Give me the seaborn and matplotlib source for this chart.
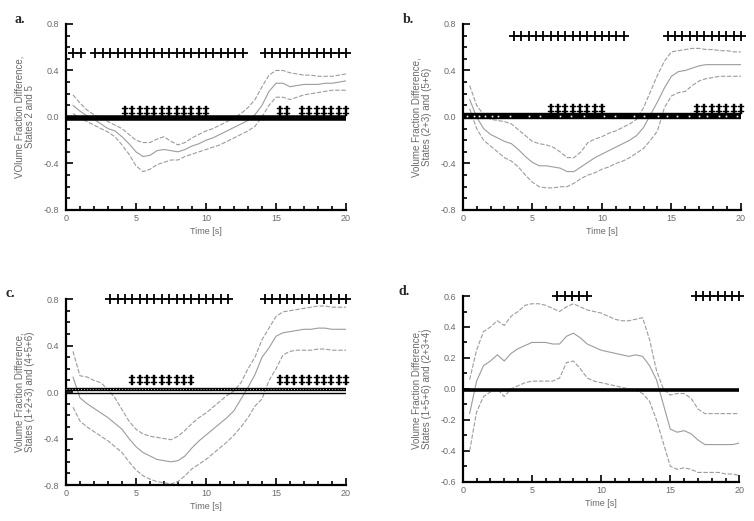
import matplotlib
matplotlib.use("Agg")
import matplotlib.pyplot as plt
import seaborn as sns
from matplotlib.ticker import MultipleLocator, FormatStrFormatter

sns.set_style("ticks")
plt.rcParams['font.family'] = ['Liberation Sans', 'DejaVu Sans']

# time axis of the curves [s]
time_s = [0.5, 1.0, 1.5, 2.0, 2.5, 3.0, 3.5, 4.0, 4.5, 5.0,
          5.5, 6.0, 6.5, 7.0, 7.5, 8.0, 8.5, 9.0, 9.5, 10.0,
          10.5, 11.0, 11.5, 12.0, 12.5, 13.0, 13.5, 14.0, 14.5, 15.0,
          15.5, 16.0, 16.5, 17.0, 17.5, 18.0, 18.5, 19.0, 19.5, 20.0]

## a. states 2 and 5
a_mean = [0.10, 0.05, 0.01, -0.02, -0.06, -0.10, -0.12, -0.17, -0.23, -0.30,
          -0.34, -0.33, -0.29, -0.28, -0.29, -0.30, -0.28, -0.25, -0.23, -0.20,
          -0.18, -0.15, -0.12, -0.09, -0.06, -0.03, 0.02, 0.10, 0.22, 0.29,
          0.29, 0.26, 0.27, 0.28, 0.28, 0.28, 0.29, 0.29, 0.30, 0.31]
a_upper = [0.19, 0.12, 0.06, 0.02, -0.01, -0.04, -0.07, -0.10, -0.15, -0.20,
           -0.22, -0.22, -0.19, -0.17, -0.21, -0.24, -0.22, -0.18, -0.15, -0.12,
           -0.10, -0.07, -0.04, -0.01, 0.03, 0.08, 0.15, 0.26, 0.36, 0.40,
           0.40, 0.38, 0.37, 0.36, 0.36, 0.35, 0.35, 0.35, 0.36, 0.37]
a_lower = [0.03, -0.01, -0.04, -0.07, -0.10, -0.13, -0.17, -0.24, -0.32, -0.42,
           -0.47, -0.45, -0.41, -0.39, -0.37, -0.37, -0.34, -0.32, -0.30, -0.28,
           -0.26, -0.24, -0.21, -0.18, -0.15, -0.12, -0.08, 0.00, 0.10, 0.17,
           0.17, 0.15, 0.17, 0.19, 0.20, 0.21, 0.22, 0.23, 0.23, 0.23]

## b. states (2+3) and (5+6)
b_mean = [0.15, 0.00, -0.10, -0.15, -0.18, -0.21, -0.23, -0.28, -0.34, -0.39,
          -0.42, -0.42, -0.43, -0.44, -0.47, -0.47, -0.43, -0.39, -0.35, -0.32,
          -0.29, -0.26, -0.23, -0.20, -0.16, -0.09, 0.02, 0.13, 0.25, 0.35,
          0.39, 0.40, 0.42, 0.44, 0.45, 0.45, 0.45, 0.45, 0.45, 0.45]
b_upper = [0.27, 0.10, 0.02, -0.02, -0.03, -0.04, -0.06, -0.11, -0.16, -0.21,
           -0.23, -0.24, -0.26, -0.30, -0.35, -0.35, -0.30, -0.22, -0.19, -0.17,
           -0.14, -0.12, -0.09, -0.06, -0.02, 0.08, 0.22, 0.36, 0.48, 0.56,
           0.57, 0.58, 0.59, 0.59, 0.58, 0.58, 0.57, 0.57, 0.56, 0.56]
b_lower = [0.07, -0.10, -0.20, -0.25, -0.30, -0.35, -0.38, -0.43, -0.50, -0.56,
           -0.60, -0.61, -0.61, -0.60, -0.60, -0.57, -0.53, -0.50, -0.48, -0.45,
           -0.43, -0.40, -0.38, -0.35, -0.31, -0.27, -0.20, -0.12, 0.08, 0.18,
           0.21, 0.22, 0.27, 0.31, 0.33, 0.34, 0.35, 0.35, 0.35, 0.35]

## c. states (1+2+3) and (4+5+6)
c_mean = [0.13, -0.05, -0.10, -0.14, -0.18, -0.22, -0.27, -0.32, -0.40, -0.47,
          -0.52, -0.55, -0.58, -0.59, -0.60, -0.59, -0.55, -0.48, -0.42, -0.37,
          -0.32, -0.27, -0.22, -0.16, -0.06, 0.04, 0.15, 0.30, 0.38, 0.48,
          0.51, 0.52, 0.53, 0.54, 0.54, 0.55, 0.55, 0.54, 0.54, 0.54]
c_upper = [0.35, 0.14, 0.13, 0.10, 0.08, 0.02, -0.05, -0.15, -0.25, -0.32,
           -0.36, -0.38, -0.39, -0.40, -0.41, -0.38, -0.33, -0.27, -0.22, -0.18,
           -0.13, -0.08, -0.03, 0.01, 0.08, 0.20, 0.30, 0.45, 0.55, 0.65,
           0.69, 0.70, 0.71, 0.72, 0.73, 0.74, 0.74, 0.73, 0.73, 0.73]
c_lower = [-0.13, -0.25, -0.30, -0.34, -0.38, -0.42, -0.47, -0.52, -0.60, -0.67,
           -0.72, -0.75, -0.77, -0.78, -0.79, -0.77, -0.72, -0.66, -0.62, -0.58,
           -0.53, -0.48, -0.43, -0.37, -0.30, -0.22, -0.12, -0.06, 0.10, 0.20,
           0.32, 0.35, 0.36, 0.36, 0.36, 0.37, 0.37, 0.36, 0.36, 0.36]

## d. states (1+5+6) and (2+3+4)
d_mean = [-0.16, 0.05, 0.15, 0.18, 0.22, 0.18, 0.23, 0.26, 0.28, 0.30,
          0.30, 0.30, 0.29, 0.29, 0.34, 0.36, 0.33, 0.29, 0.27, 0.25,
          0.24, 0.23, 0.22, 0.21, 0.22, 0.21, 0.15, 0.06, -0.10, -0.26,
          -0.28, -0.27, -0.29, -0.33, -0.36, -0.36, -0.36, -0.36, -0.36, -0.35]
d_upper = [0.06, 0.25, 0.37, 0.40, 0.44, 0.41, 0.47, 0.50, 0.54, 0.55,
           0.55, 0.54, 0.52, 0.50, 0.53, 0.55, 0.53, 0.51, 0.50, 0.49,
           0.47, 0.45, 0.44, 0.44, 0.45, 0.46, 0.32, 0.12, 0.00, -0.04,
           -0.03, -0.03, -0.06, -0.13, -0.16, -0.16, -0.16, -0.16, -0.16, -0.16]
d_lower = [-0.40, -0.15, -0.05, -0.02, 0.00, -0.05, 0.00, 0.02, 0.04, 0.05,
           0.05, 0.05, 0.05, 0.07, 0.17, 0.18, 0.13, 0.07, 0.05, 0.04,
           0.03, 0.02, 0.01, 0.00, -0.01, -0.03, -0.08, -0.20, -0.35, -0.50,
           -0.52, -0.51, -0.52, -0.54, -0.54, -0.54, -0.54, -0.55, -0.55, -0.56]

# significance markers, as frame numbers (38 frames over 20 s)
frame_dt = 20 / 38
a_top_frames = [1, 2] + list(range(4, 25)) + list(range(27, 39))
a_low_frames = list(range(8, 20)) + [29, 30] + list(range(32, 39))
b_top_frames = list(range(7, 23)) + list(range(28, 39))
b_low_frames = list(range(12, 20)) + list(range(32, 39))
c_top_frames = list(range(6, 23)) + list(range(27, 39))
c_low_frames = list(range(9, 18)) + list(range(29, 39))
d_top_frames = list(range(13, 18)) + list(range(32, 39))
d_low_frames = []
b_band_dots = [0.31, 0.79, 1.2, 1.63, 2.11, 2.54, 3.43, 4.74, 5.58, 6.97, 7.81,
               8.69, 10.13, 10.97, 12.29, 13.01, 14.04, 14.68, 15.4, 16.24,
               16.96, 17.56, 18.39, 18.94, 19.71]

ylabels = {
    'a': 'VOlume Fraction Difference,\nStates 2 and 5',
    'b': 'Volume Fraction Difference,\nStates (2+3) and (5+6)',
    'c': 'Volume Fraction Difference,\nStates (1+2+3) and (4+5+6)',
    'd': 'Volume Fraction Difference,\nStates (1+5+6) and (2+3+4)',
}

grey = '#9c9c9c'
text_grey = '#6a6a6a'

fig = plt.figure(figsize=(7.54, 5.21), dpi=100)
boxes = {'a': [0.0875, 0.597, 0.3714, 0.357],
         'b': [0.6137, 0.597, 0.369, 0.357],
         'c': [0.0875, 0.069, 0.3714, 0.357],
         'd': [0.6137, 0.0754, 0.367, 0.3564]}
panels = {
    'a': (a_mean, a_upper, a_lower, a_top_frames, 0.55, a_low_frames, 0.055, 0.8, 0.4),
    'b': (b_mean, b_upper, b_lower, b_top_frames, 0.70, b_low_frames, 0.065, 0.8, 0.4),
    'c': (c_mean, c_upper, c_lower, c_top_frames, 0.80, c_low_frames, 0.105, 0.8, 0.4),
    'd': (d_mean, d_upper, d_lower, d_top_frames, 0.60, d_low_frames, 0.06, 0.6, 0.2),
}
letter_pos = {'a': (0.026, 0.962), 'b': (0.542, 0.962),
              'c': (0.014, 0.436), 'd': (0.536, 0.44)}

for key, (mean, upper, lower, top_f, top_y, low_f, low_y, ymax, ymaj) in panels.items():
    ax = fig.add_axes(boxes[key])

    # zero band
    if key == 'c':
        ax.axhline(0.028, color='k', lw=2.4, zorder=3)
        ax.axhline(0.028, color='white', lw=0.6, ls=(0, (1, 2.5)), zorder=3)
        ax.axhline(-0.005, color='k', lw=1.0, zorder=3)
    elif key == 'b':
        ax.axhline(0.005, color='k', lw=4.6, zorder=3)
        ax.plot(b_band_dots, [0.005] * len(b_band_dots), ls='none', marker='s',
                ms=1.2, color='white', mew=0, zorder=4)
    elif key == 'd':
        ax.axhline(-0.005, color='k', lw=2.6, zorder=3)
    else:
        ax.axhline(-0.005, color='k', lw=4.0, zorder=3)

    sns.lineplot(x=time_s, y=upper, ax=ax, color=grey, lw=0.8, linestyle=(0, (4, 1.5)))
    sns.lineplot(x=time_s, y=mean, ax=ax, color=grey, lw=0.8)
    sns.lineplot(x=time_s, y=lower, ax=ax, color=grey, lw=0.8, linestyle=(0, (4, 1.5)))

    ax.plot([f * frame_dt for f in top_f], [top_y] * len(top_f), ls='none',
            marker='+', ms=6.5, mew=1.3, color='k', clip_on=False, zorder=5)
    if low_f:
        ax.plot([f * frame_dt for f in low_f], [low_y] * len(low_f), ls='none',
                marker=r'$\ddagger$', ms=7.5, mew=0.3, color='k', clip_on=False, zorder=5)

    ax.set_xlim(0, 20)
    ax.set_ylim(-ymax, ymax)
    ax.xaxis.set_major_locator(MultipleLocator(5))
    ax.xaxis.set_minor_locator(MultipleLocator(1))
    ax.yaxis.set_major_locator(MultipleLocator(ymaj))
    ax.yaxis.set_minor_locator(MultipleLocator(0.1))
    ax.yaxis.set_major_formatter(FormatStrFormatter('%.1f'))
    ax.tick_params(which='both', direction='in', width=1.2, color='k',
                   labelcolor=text_grey, labelsize=6.5)
    ax.tick_params(which='major', length=5)
    ax.tick_params(which='minor', length=3)
    ax.tick_params(axis='y', pad=5)
    ax.tick_params(axis='x', pad=3)
    sns.despine(ax=ax)
    for side in ['left', 'bottom']:
        ax.spines[side].set_linewidth(1.6)
        ax.spines[side].set_color('k')

    ax.set_ylabel(ylabels[key], fontsize=7, color=text_grey, labelpad=6,
                  linespacing=1.1)
    ax.set_xlabel('Time [s]', fontsize=6.5, color=text_grey, labelpad=3)

    fig.text(letter_pos[key][0], letter_pos[key][1], key + '.', fontsize=10,
             fontweight='bold', family='Liberation Serif', ha='center', va='center')

fig.savefig('out.png', dpi=100)
